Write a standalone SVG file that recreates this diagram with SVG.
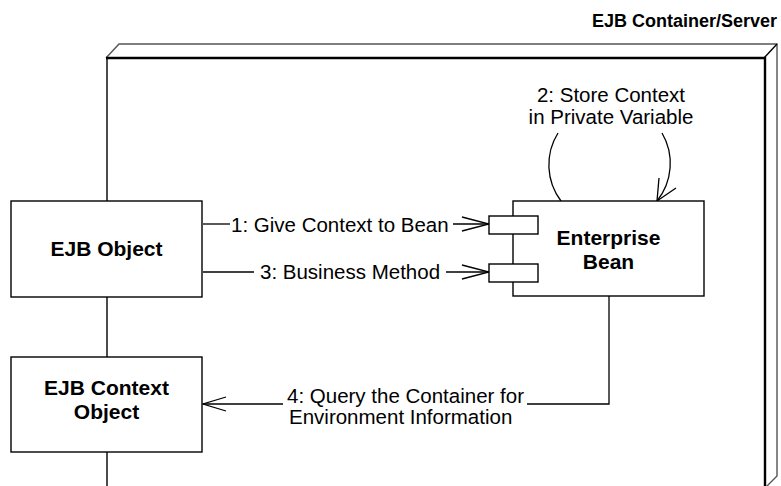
<svg xmlns="http://www.w3.org/2000/svg" width="781" height="486" viewBox="0 0 781 486">
<style>
.box{fill:#fff;stroke:#000;stroke-width:1.4}
.ln{fill:none;stroke:#000;stroke-width:1.3}
.bold{font-family:"Liberation Sans",Arial,sans-serif;font-weight:bold;font-size:21px;fill:#000}
.lbl{font-family:"Liberation Sans",Arial,sans-serif;font-size:20.5px;fill:#000}
</style>
<g id="container">
<path d="M106 58 L119 44 L777 44 L777 476 L765 488" fill="none" stroke="#555" stroke-width="1.4"/>
<line x1="764" y1="58" x2="777" y2="44" stroke="#000" stroke-width="1.4"/>
<line x1="107" y1="58" x2="107" y2="486" stroke="#000" stroke-width="1.4"/>
<path d="M106 58 L765 58 L765 486" fill="none" stroke="#000" stroke-width="2.4"/>
<text class="bold" x="777" y="27" text-anchor="end" style="font-size:18px">EJB Container/Server</text>
</g>
<g id="connectors">
<line class="ln" x1="203" y1="224" x2="230" y2="224"/>
<line class="ln" x1="453" y1="224" x2="489" y2="224"/>
<polyline class="ln" points="462,217 489,224 462,231"/>
<text class="lbl" x="231" y="232">1: Give Context to Bean</text>
<line class="ln" x1="203" y1="272" x2="254" y2="272"/>
<line class="ln" x1="446" y1="272" x2="489" y2="272"/>
<polyline class="ln" points="462,265 489,272 462,279"/>
<text class="lbl" x="260" y="279">3: Business Method</text>
<path class="ln" d="M558 133 A60 60 0 0 0 561 201"/>
<path class="ln" d="M662 133 A60 60 0 0 1 657 201"/>
<polyline class="ln" points="659,178 657,201 676,188"/>
<text class="lbl" x="611" y="102" text-anchor="middle">2: Store Context</text>
<text class="lbl" x="611" y="124" text-anchor="middle">in Private Variable</text>
<polyline class="ln" points="609,296 609,404 527,404"/>
<line class="ln" x1="283" y1="404" x2="203" y2="404"/>
<polyline class="ln" points="226,397 203,404 226,411"/>
<text class="lbl" x="287" y="403">4: Query the Container for</text>
<text class="lbl" x="289" y="424">Environment Information</text>
</g>
<g id="ejb-object">
<rect class="box" x="11" y="201" width="191" height="96"/>
<text class="bold" x="106.5" y="256" text-anchor="middle">EJB Object</text>
</g>
<g id="ejb-context-object">
<rect class="box" x="11" y="357" width="191" height="95"/>
<text class="bold" x="106.5" y="395" text-anchor="middle">EJB Context</text>
<text class="bold" x="106.5" y="419" text-anchor="middle">Object</text>
</g>
<g id="enterprise-bean">
<rect class="box" x="513" y="201" width="191" height="95"/>
<rect class="box" x="489" y="216" width="49" height="18"/>
<rect class="box" x="489" y="264" width="49" height="18"/>
<text class="bold" x="608.5" y="245" text-anchor="middle">Enterprise</text>
<text class="bold" x="608.5" y="269" text-anchor="middle">Bean</text>
</g>
</svg>
